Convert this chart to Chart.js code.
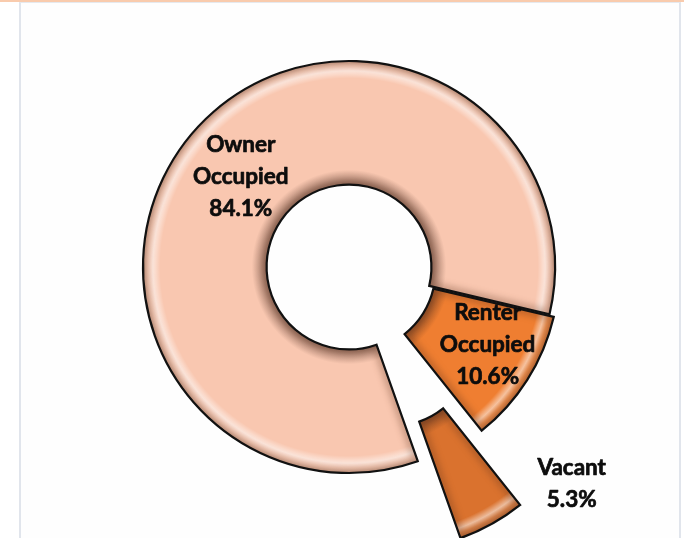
<!DOCTYPE html>
<html>
<head>
<meta charset="utf-8">
<script src="https://cdn.jsdelivr.net/npm/chart.js@4.4.1/dist/chart.umd.min.js"></script>
<style>
  html, body { margin:0; padding:0; background:#ffffff; }
  #wrap { position:relative; width:684px; height:538px; overflow:hidden; background:#ffffff; }
  #topbar { position:absolute; left:0; top:0; width:684px; height:2px; background:#f9cbad; }
  #frame { position:absolute; left:19px; top:2px; width:658px; height:540px; border-left:2px solid #e1e5ec; border-right:2px solid #e1e5ec; border-top:1px solid #e6e9ee; background:#fefefe; }
  canvas { position:absolute; left:0; top:0; }
</style>
</head>
<body>
<div id="wrap">
  <div id="topbar"></div>
  <div id="frame"></div>
  <canvas id="c" width="684" height="538"></canvas>
</div>
<script>
// ---- data ----
const categories = ['Owner Occupied', 'Renter Occupied', 'Vacant'];
const values = [84.1, 10.6, 5.3];
const labelLines = [['Owner', 'Occupied', '84.1%'], ['Renter', 'Occupied', '10.6%'], ['Vacant', '5.3%']];
const sliceColors = ['#f9c7b0', '#ef7e31', '#da722e'];
// explosion distance (px) of each slice along its mid angle
const explode = [0, 5, 88];
// label placement: angle shift (deg) from slice mid angle, distance from centre (px)
const labelAngleShift = [-2, -3, -16.7];
const labelDist = [141, 159, 311];

const shadePlugin = {
  id: 'shade',
  beforeDatasetDraw(chart, args) {
    const ctx = chart.ctx;
    const meta = args.meta;
    meta.data.forEach((arc, i) => {
      const mid = (arc.startAngle + arc.endAngle) / 2;
      const s = explode[i];
      ctx.save();
      ctx.translate(Math.cos(mid) * s, Math.sin(mid) * s);
      const path = () => {
        ctx.beginPath();
        ctx.arc(arc.x, arc.y, arc.outerRadius, arc.startAngle, arc.endAngle);
        ctx.arc(arc.x, arc.y, arc.innerRadius, arc.endAngle, arc.startAngle, true);
        ctx.closePath();
      };
      path();
      ctx.fillStyle = sliceColors[i];
      ctx.fill();
      ctx.save();
      path();
      ctx.clip();
      const ri = arc.innerRadius, ro = arc.outerRadius;
      const g = ctx.createRadialGradient(arc.x, arc.y, ri, arc.x, arc.y, ro);
      g.addColorStop(0.0, 'rgba(70,40,30,0.55)');
      g.addColorStop(0.05, 'rgba(70,40,30,0.30)');
      g.addColorStop(0.12, 'rgba(70,40,30,0.0)');
      g.addColorStop(0.86, 'rgba(255,255,255,0.0)');
      g.addColorStop(0.92, 'rgba(255,255,255,0.55)');
      g.addColorStop(0.96, 'rgba(255,255,255,0.15)');
      g.addColorStop(1.0, 'rgba(90,50,30,0.25)');
      ctx.fillStyle = g;
      ctx.fillRect(0, 0, chart.width, chart.height);
      ctx.filter = 'blur(3px)';
      path();
      ctx.lineWidth = 10;
      ctx.strokeStyle = 'rgba(90,45,25,0.28)';
      ctx.stroke();
      ctx.filter = 'none';
      ctx.restore();
      path();
      ctx.lineJoin = 'miter';
      ctx.lineWidth = 2.2;
      ctx.strokeStyle = '#111111';
      ctx.stroke();
      ctx.restore();
    });
    return false;
  },
  afterDatasetsDraw(chart) {
    const ctx = chart.ctx;
    const meta = chart.getDatasetMeta(0);
    ctx.save();
    ctx.font = 'bold 22.5px Lato';
    ctx.fillStyle = '#0d0d0d';
    ctx.strokeStyle = '#0d0d0d';
    ctx.lineWidth = 0.7;
    ctx.lineJoin = 'round';
    ctx.textAlign = 'center';
    ctx.textBaseline = 'middle';
    meta.data.forEach((arc, i) => {
      const mid = (arc.startAngle + arc.endAngle) / 2 + labelAngleShift[i] * Math.PI / 180;
      const cx = arc.x + Math.cos(mid) * labelDist[i];
      const cy = arc.y + Math.sin(mid) * labelDist[i];
      const lines = labelLines[i];
      const lh = 32;
      lines.forEach((t, k) => {
        const y = cy + (k - (lines.length - 1) / 2) * lh;
        ctx.fillText(t, cx, y);
        ctx.strokeText(t, cx, y);
      });
    });
    ctx.restore();
  }
};

new Chart(document.getElementById('c'), {
  type: 'doughnut',
  data: {
    labels: categories,
    datasets: [{
      data: values,
      backgroundColor: sliceColors,
      borderColor: '#111111',
      borderWidth: 2
    }]
  },
  options: {
    responsive: false,
    animation: false,
    devicePixelRatio: 1,
    rotation: 160.5,
    cutout: '40%',
    radius: 206,
    layout: { padding: { left: 14, right: 0, top: 0, bottom: 4 } },
    plugins: { legend: { display: false }, tooltip: { enabled: false } }
  },
  plugins: [shadePlugin]
});
</script>
</body>
</html>
